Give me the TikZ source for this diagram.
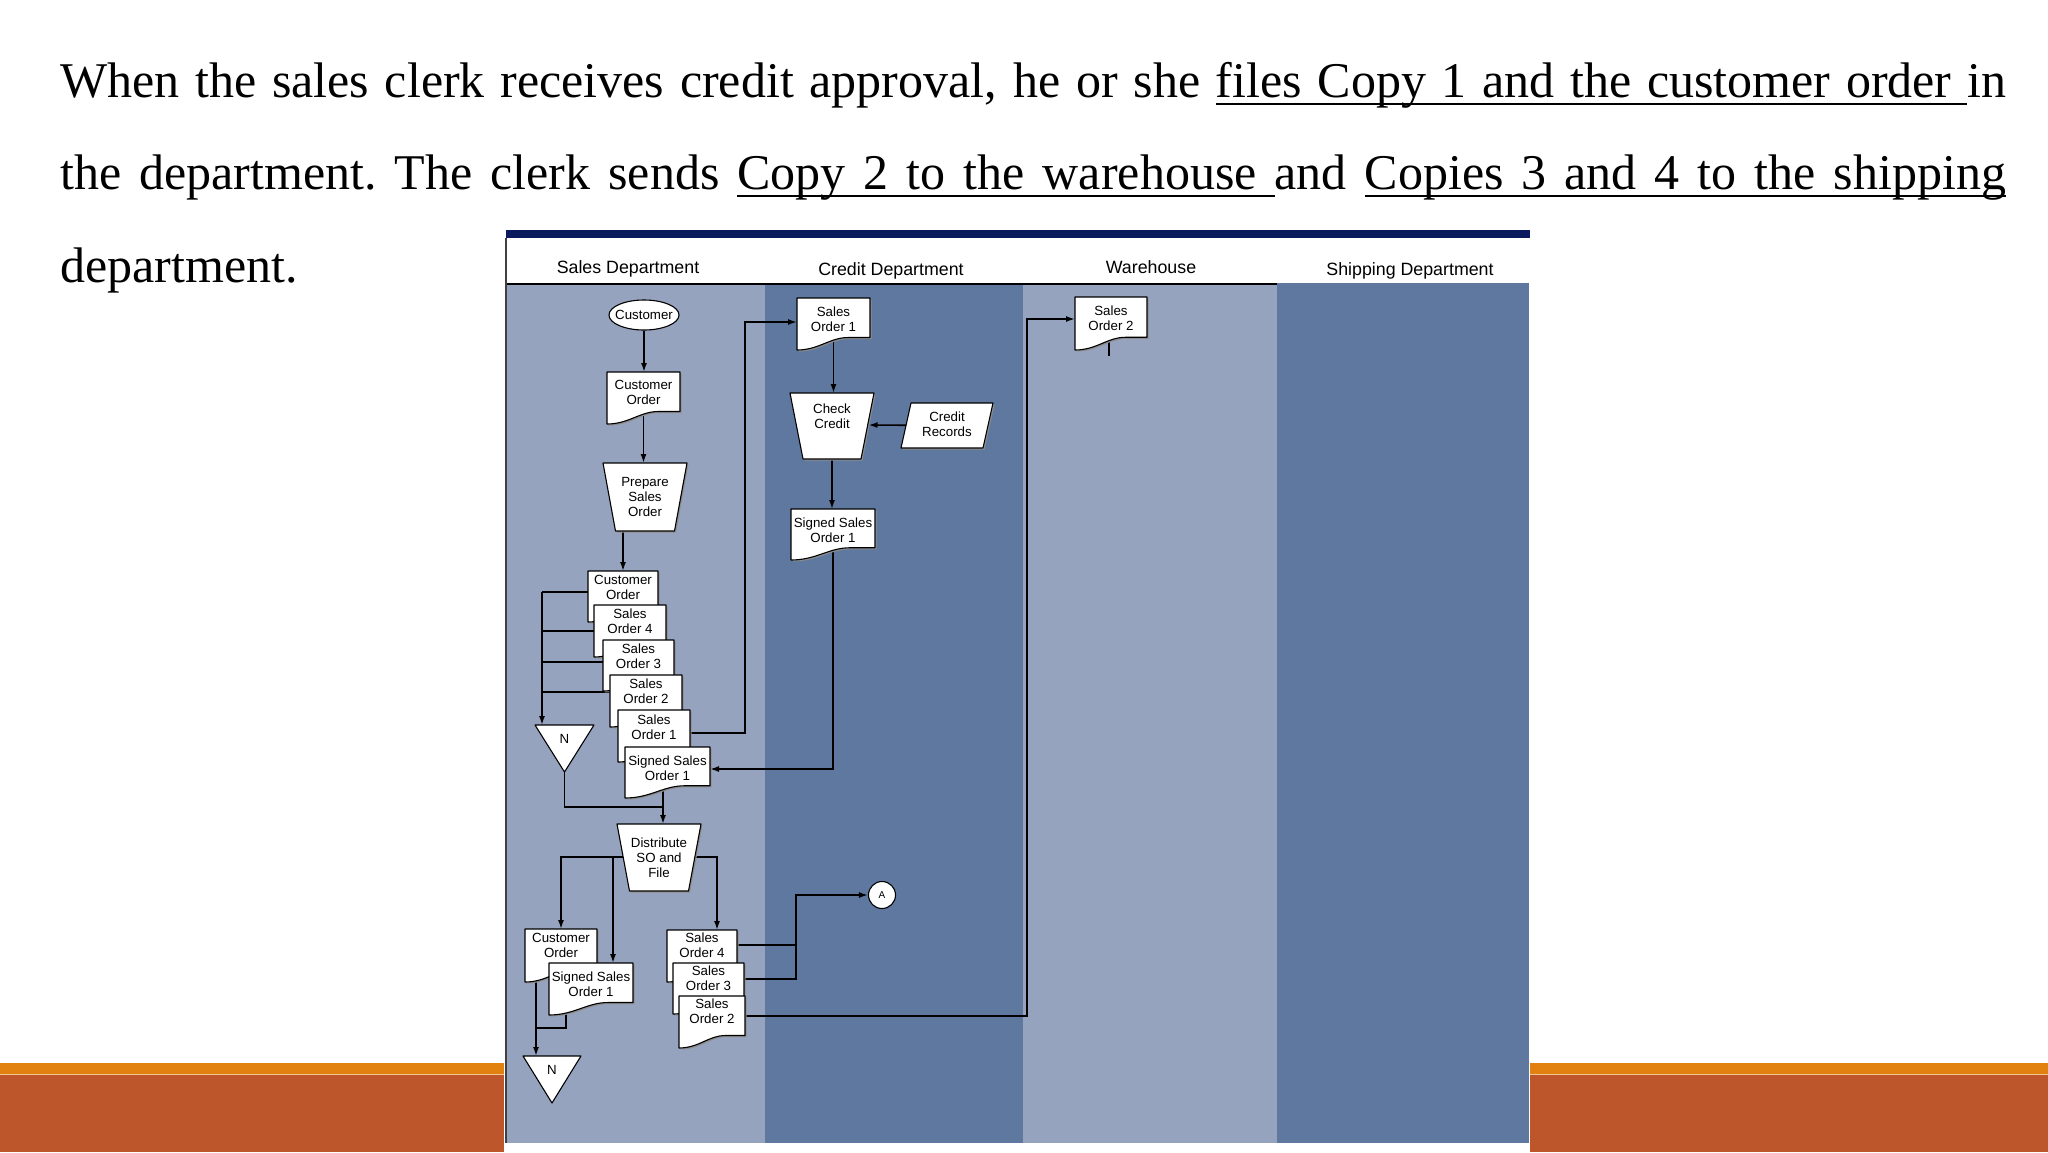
\documentclass[tikz,border=0pt]{standalone}
\usepackage{fontspec}
\setmainfont{Liberation Serif}
\newfontfamily\dia{Liberation Sans}
\usetikzlibrary{arrows.meta,shapes.geometric}
\newcommand\ulbox[1]{\setbox0\hbox{#1}\rlap{\rule[-7.6pt]{\wd0}{2pt}}\box0}
\newcommand\ulsp{\leaders\hrule height -5.6pt depth 7.6pt\hskip\fontdimen2\font plus\fontdimen3\font minus\fontdimen4\font\relax}
\definecolor{laneL}{HTML}{96A3BE}
\definecolor{laneD}{HTML}{5F78A0}
\definecolor{navy}{HTML}{0B1A5C}
\definecolor{orng}{HTML}{E2810F}
\definecolor{brwn}{HTML}{BE562C}
\pgfdeclarelayer{lanes}\pgfdeclarelayer{conn}\pgfsetlayers{lanes,conn,main}
\tikzset{
 box/.style={inner sep=0pt,outer sep=0pt,draw=none,rectangle},
 shapefill/.style={fill=white,draw=black,line width=1.1pt,line join=round},
 shadowfill/.style={fill=black!45,draw=none},
 dtext/.style={align=center,inner sep=0pt,font=\dia\fontsize{13.3}{15}\selectfont},
 line/.style={draw=black,line width=1.6pt},
 arr/.style={line,-{Latex[length=9pt,width=6pt]}},
 head/.style={anchor=base,inner sep=0pt,font=\dia\fontsize{17.8}{19}\selectfont},
 para/.style={anchor=base west,inner sep=0pt,font=\fontsize{50}{60}\selectfont},
}
\newcommand\docpath[4]{(#1,#2) -- ({#1+#3},#2) -- ({#1+#3},{#2+0.76*#4}) -- ({#1+0.7*#3},{#2+0.76*#4}) .. controls ({#1+0.45*#3},{#2+0.76*#4}) and ({#1+0.3*#3},{#2+#4}) .. (#1,{#2+#4}) -- cycle}
\newcommand\docshape[7]{%
 \node[box,minimum width=#4pt,minimum height=#5pt] (#1) at ({#2+#4/2},{#3+#5/2}) {};
 \path[shadowfill,shift={(1.5,1.5)}] \docpath{#2}{#3}{#4}{#5};
 \path[shapefill] \docpath{#2}{#3}{#4}{#5};
 \node[dtext] (#1-t) at ({#2+#4/2},{#3+#6}) {#7};}
\newcommand\trappath[5]{({#1-#3/2},#2) -- ({#1+#3/2},#2) -- ({#1+#4/2},{#2+#5}) -- ({#1-#4/2},{#2+#5}) -- cycle}
\newcommand\trapshape[8]{%
 \node[box,minimum width=#4pt,minimum height=#6pt] (#1) at (#2,{#3+#6/2}) {};
 \path[shadowfill,shift={(1.5,1.5)}] \trappath{#2}{#3}{#4}{#5}{#6};
 \path[shapefill] \trappath{#2}{#3}{#4}{#5}{#6};
 \node[dtext] (#1-t) at (#2,{#3+#6/2+#7}) {#8};}
\newcommand\ntri[5]{%
 \node[box,minimum width=#4pt,minimum height=#5pt] (#1) at (#2,{#3+#5/2}) {};
 \path[shapefill] ({#2-#4/2},#3) -- ({#2+#4/2},#3) -- (#2,{#3+#5}) -- cycle;
 \node[dtext] (#1-t) at (#2,{#3+14}) {N};}
\begin{document}
\begin{tikzpicture}[x=1pt,y=-1pt]
\useasboundingbox (0,0) rectangle (2048,1152);
\begin{pgfonlayer}{lanes}
 \fill[white] (0,0) rectangle (2048,1152);
 \fill[orng] (0,1063) rectangle (2048,1074);
 \fill[orng!45!white] (0,1074) rectangle (2048,1075);
 \fill[brwn] (0,1075) rectangle (2048,1152);
 \fill[white] (504,229) rectangle (1530,1152);
 \fill[navy] (506,230) rectangle (1530,238);
 \fill[laneL] (507,284) rectangle (765,1143);
 \fill[laneD] (765,284) rectangle (1023,1143);
 \fill[laneL] (1023,284) rectangle (1277,1143);
 \fill[laneD] (1277,283) rectangle (1529,1143);
 \draw[black,line width=1.5pt] (506,284) -- (1277,284);
 \draw[black!75,line width=1.2pt] (506,238) -- (506,1143);
\end{pgfonlayer}
% paragraph, three justified lines
\node[para] (line1) at (60,97) {\hbox to 1946pt{When the sales clerk receives credit approval, he or she
  \ulbox{files}\ulsp\ulbox{Copy}\ulsp\ulbox{1}\ulsp\ulbox{and}\ulsp\ulbox{the}\ulsp\ulbox{customer}\ulsp\ulbox{order}\ulsp in}};
\node[para] (line2) at (60,189.5) {\hbox to 1946pt{the department.\ The clerk sends
  \ulbox{Copy}\ulsp\ulbox{2}\ulsp\ulbox{to}\ulsp\ulbox{the}\ulsp\ulbox{warehouse}\ulsp and
  \ulbox{Copies}\ulsp\ulbox{3}\ulsp\ulbox{and}\ulsp\ulbox{4}\ulsp\ulbox{to}\ulsp\ulbox{the}\ulsp\ulbox{shipping}}};
\node[para] (line3) at (60,282) {department.};
% headers
\node[head] (hSales) at (628,273) {Sales Department};
\node[head] (hCredit) at (891,275) {Credit Department};
\node[head] (hWare) at (1151,273) {Warehouse};
\node[head] (hShip) at (1410,275) {Shipping Department};
% sales lane
\node[ellipse,draw=black,line width=1.1pt,fill=white,minimum width=70pt,minimum height=30pt,inner sep=0pt] (cust) at (644,315) {};
\node[dtext] (cust-t) at (644,315) {Customer};
\docshape{co1}{607}{372}{73}{52}{20.5}{Customer\\Order}
\trapshape{prep}{645}{463}{84}{59}{68}{0}{Prepare\\Sales\\Order}
\docshape{co2}{588}{571}{70}{51}{16}{Customer\\Order}
\docshape{so4a}{594}{605}{72}{52}{16}{Sales\\Order 4}
\docshape{so3a}{603}{640}{71}{51}{16}{Sales\\Order 3}
\docshape{so2a}{610}{675}{72}{52}{16}{Sales\\Order 2}
\docshape{so1a}{618}{710}{72}{52}{17}{Sales\\Order 1}
\docshape{sso1a}{625}{747}{85}{51}{21}{Signed Sales\\Order 1}
\ntri{n1}{564.5}{725}{59}{47}
\trapshape{dist}{659}{824}{84}{59}{67}{0}{Distribute\\SO and\\File}
\docshape{co3}{525}{929}{72}{53}{16.5}{Customer\\Order}
\docshape{sso1b}{549}{963}{84}{52}{21.5}{Signed Sales\\Order 1}
\docshape{so4b}{667}{930}{70}{52}{15.5}{Sales\\Order 4}
\docshape{so3b}{673}{963}{71}{51}{15}{Sales\\Order 3}
\docshape{so2b}{679}{996}{66}{52}{15.5}{Sales\\Order 2}
\ntri{n2}{552}{1056}{58}{47}
% credit lane
\docshape{so1c}{797}{298}{73}{52}{21}{Sales\\Order 1}
\trapshape{cc}{832}{393}{84}{58}{66}{-10}{Check\\Credit}
\node[box,minimum width=92pt,minimum height=45pt] (cr) at (947,425.5) {};
\path[shadowfill,shift={(1.5,1.5)}] (901,448) -- (983,448) -- (993,403) -- (911,403) -- cycle;
\path[shapefill] (901,448) -- (983,448) -- (993,403) -- (911,403) -- cycle;
\node[dtext] (cr-t) at (947,424) {Credit\\Records};
\docshape{sso1c}{791}{509}{84}{51}{21}{Signed Sales\\Order 1}
\node[circle,draw=black,line width=1.1pt,fill=white,minimum size=27pt,inner sep=0pt,
      font=\dia\fontsize{10}{10}\selectfont] (A) at (882,895) {A};
% warehouse lane
\docshape{so2w}{1075}{297}{72}{53}{21}{Sales\\Order 2}
% connectors
\coordinate (jA) at (542,592);
\coordinate (jB) at (542,631);
\coordinate (jC) at (542,662);
\coordinate (jD) at (542,692);
\coordinate (jE) at (663,807);
\coordinate (jF) at (613,857);
\coordinate (jK) at (717,857);
\coordinate (jG) at (536,1028);
\coordinate (jL) at (566,1028);
\coordinate (jH) at (745,733);
\coordinate (jI) at (745,322);
\coordinate (jJ) at (832,769);
\coordinate (ccE) at (868.5,425);
\coordinate (jM) at (796,945);
\coordinate (jN) at (796,979);
\coordinate (jO) at (796,895);
\coordinate (jP) at (1027,1016);
\coordinate (jQ) at (1027,319);
\coordinate (jR) at (1109,356);
\begin{pgfonlayer}{conn}
 \draw[arr] (cust.south) -- (cust.south |- co1.north);
 \draw[arr] (co1.center) -- (co1.center |- prep.north);
 \draw[arr] (prep.center -| co2.north) -- (co2.north);
 \draw[line] (co2.center |- jA) -- (jA);
 \draw[line] (so4a.center |- jB) -- (jB);
 \draw[line] (so3a.center |- jC) -- (jC);
 \draw[line] (so2a.center |- jD) -- (jD);
 \draw[arr] (jA) -- (jA |- n1.north);
 \draw[line] (n1.center) |- (jE);
 \draw[arr] (sso1a.center -| jE) -- (jE |- dist.north);
 \draw[arr] (so1a.center |- jH) -- (jH) -- (jI) -- (so1c.west |- jI);
 \draw[arr] (so1c.center) -- (so1c.center |- cc.north);
 \draw[arr] (cr.center) -- (ccE);
 \draw[arr] (cc.center) -- (cc.center |- sso1c.north);
 \draw[arr] (sso1c.center) |- (sso1a.east |- jJ);
 \draw[arr] (dist.center |- jF) -| (co3.north);
 \draw[arr] (jF) -- (jF |- sso1b.north);
 \draw[arr] (dist.center |- jF) -- (jK) -- (jK |- so4b.north);
 \draw[arr] (co3.center -| jG) -- (jG |- n2.north);
 \draw[line] (sso1b.center -| jL) -- (jL) -- (jG);
 \draw[line] (so4b.center |- jM) -- (jM);
 \draw[arr] (so3b.center |- jN) -- (jN) -- (jO) -- (A);
 \draw[arr] (so2b.center |- jP) -- (jP) -- (jQ) -- (so2w.west |- jQ);
 \draw[line] (so2w.center -| jR) -- (jR);
\end{pgfonlayer}
\end{tikzpicture}
\end{document}
